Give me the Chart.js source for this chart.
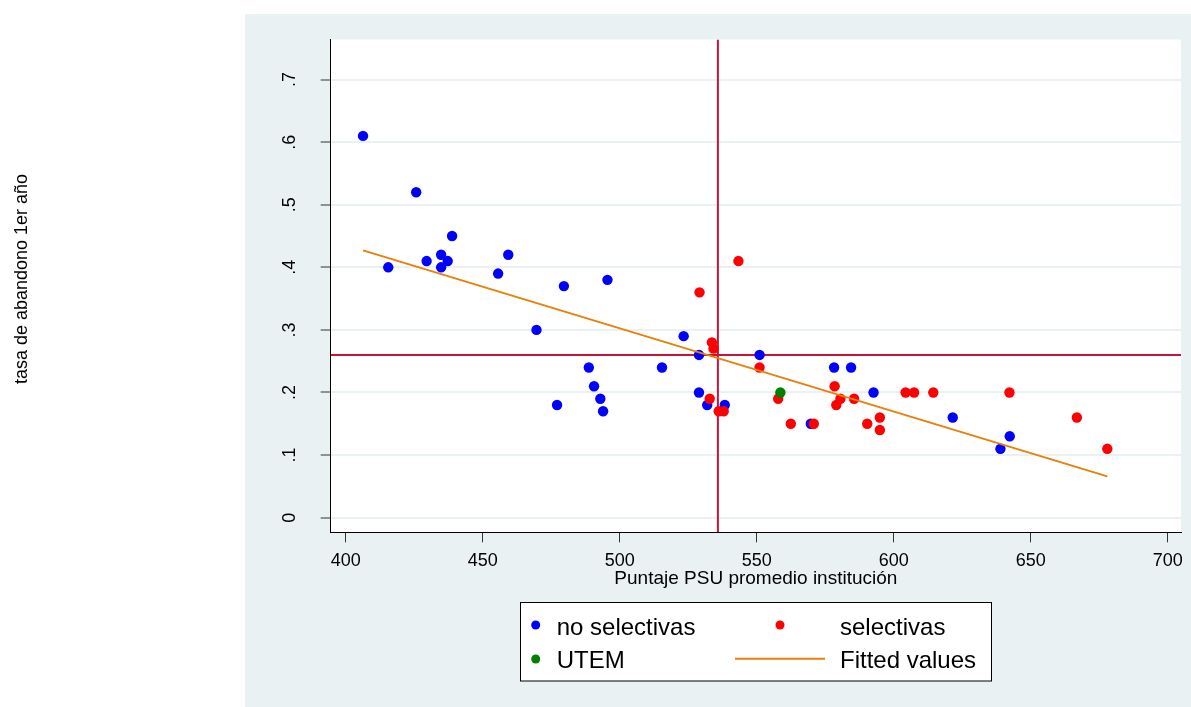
<!DOCTYPE html>
<html>
<head>
<meta charset="utf-8">
<script src="https://cdn.jsdelivr.net/npm/chart.js@4/dist/chart.umd.min.js"></script>
<style>
  body { margin: 0; background: #fff; }
  .wrap { width: 1191px; height: 707px; position: relative; }
</style>
</head>
<body>
<div class="wrap"><canvas id="myChart"></canvas></div>
<script>
"use strict";

// Data

const noSelX = [406.3, 425.7, 415.5, 429.5, 434.8, 437.2, 434.8, 438.8, 455.6, 459.3, 479.6, 495.5, 469.6, 488.7, 490.6, 492.9, 493.9, 477.1, 515.4, 523.3, 528.9, 528.9, 531.9, 538.3, 551.0, 569.7, 578.2, 584.4, 592.6, 621.5, 638.9, 642.3];
const noSelY = [0.61, 0.52, 0.40, 0.41, 0.42, 0.41, 0.40, 0.45, 0.39, 0.42, 0.37, 0.38, 0.30, 0.24, 0.21, 0.19, 0.17, 0.18, 0.24, 0.29, 0.26, 0.20, 0.18, 0.18, 0.26, 0.15, 0.24, 0.24, 0.20, 0.16, 0.11, 0.13];

const selX = [529.1, 533.6, 534.2, 532.8, 536.1, 537.9, 543.3, 551.0, 557.8, 562.4, 570.8, 578.4, 579.0, 580.5, 585.5, 590.3, 594.9, 594.9, 604.3, 607.4, 614.4, 642.2, 666.8, 677.9];
const selY = [0.36, 0.28, 0.27, 0.19, 0.17, 0.17, 0.41, 0.24, 0.19, 0.15, 0.15, 0.21, 0.18, 0.19, 0.19, 0.15, 0.16, 0.14, 0.20, 0.20, 0.20, 0.20, 0.16, 0.11];

const utemX = [558.6];
const utemY = [0.20];

const fitX = [406.3, 677.9];
const fitY = [0.427, 0.066];

const refX = 535.8; // xline
const refY = 0.26; // yline

const xMin = 394.5, xMax = 704.8, xStep = 50;
const yMin = -0.0234, yMax = 0.764, yStep = 0.1;

const toPoints = (xs, ys) => xs.map((x, i) => ({ x: x, y: ys[i] }));

const FONT = "'Liberation Sans', Arial, sans-serif";
const BG = "#EAF1F3";

// background + white plot region
const bgPlugin = {
  id: "bg",
  beforeDraw(chart) {
    const { ctx, chartArea: a } = chart;
    ctx.save();
    ctx.fillStyle = "#fff";
    ctx.fillRect(0, 0, chart.width, chart.height);
    ctx.fillStyle = BG;
    ctx.fillRect(245, 14, chart.width - 245, chart.height - 14);
    ctx.fillStyle = "#fff";
    ctx.fillRect(a.left, a.top, a.right - a.left, a.bottom - a.top);
    ctx.restore();
  },
};

// y title + two column legend box
const extrasPlugin = {
  id: "extras",
  afterDraw(chart) {
    const ctx = chart.ctx;
    ctx.save();
    ctx.fillStyle = "#000";
    ctx.font = "18px " + FONT;
    ctx.translate(27, 279);
    ctx.rotate(-Math.PI / 2);
    ctx.textAlign = "center";
    ctx.textBaseline = "alphabetic";
    ctx.fillText("tasa de abandono 1er año", 0, 0);
    ctx.restore();

    ctx.save();
    ctx.fillStyle = "#fff";
    ctx.fillRect(520.5, 602.5, 471, 78.5);
    ctx.strokeStyle = "#000";
    ctx.lineWidth = 1;
    ctx.strokeRect(520.5, 602.5, 471, 78.5);

    const ds = chart.data.datasets;
    const items = [
      { d: ds[0], sx: 535.7, tx: 556.7, y: 625, base: 635 },
      { d: ds[1], sx: 780, tx: 840, y: 625, base: 635 },
      { d: ds[2], sx: 535.7, tx: 556.7, y: 659, base: 668 },
      { d: ds[3], sx: 780, tx: 840, y: 658.7, base: 668, line: true },
    ];
    ctx.font = "24px " + FONT;
    ctx.textBaseline = "alphabetic";
    ctx.textAlign = "left";
    items.forEach((it) => {
      if (it.line) {
        ctx.strokeStyle = it.d.borderColor;
        ctx.lineWidth = 2;
        ctx.beginPath();
        ctx.moveTo(735, it.y);
        ctx.lineTo(825, it.y);
        ctx.stroke();
      } else {
        ctx.fillStyle = it.d.backgroundColor;
        ctx.beginPath();
        ctx.arc(it.sx, it.y, 4.5, 0, Math.PI * 2);
        ctx.fill();
      }
      ctx.fillStyle = "#000";
      ctx.fillText(it.d.label, it.tx, it.base);
    });
    ctx.restore();
  },
};

const ctx = document.getElementById("myChart").getContext("2d");
const myChart = new Chart(ctx, {
  type: "scatter",
  data: {
    datasets: [
      {
        label: "no selectivas",
        data: toPoints(noSelX, noSelY),
        backgroundColor: "#0000FF",
        borderWidth: 0,
        pointRadius: 5.2,
        order: 3,
      },
      {
        label: "selectivas",
        data: toPoints(selX, selY),
        backgroundColor: "#FF0000",
        borderWidth: 0,
        pointRadius: 5.2,
        order: 2,
      },
      {
        label: "UTEM",
        data: toPoints(utemX, utemY),
        backgroundColor: "#008000",
        borderWidth: 0,
        pointRadius: 5.2,
        order: 1,
      },
      {
        label: "Fitted values",
        type: "line",
        data: toPoints(fitX, fitY),
        borderColor: "#E8800A",
        backgroundColor: "#E8800A",
        borderWidth: 2,
        pointRadius: 0,
        showLine: true,
        order: 0,
      },
      {
        label: "xline",
        type: "line",
        data: [{ x: refX, y: yMin }, { x: refX, y: yMax }],
        borderColor: "#C8143C",
        borderWidth: 2,
        pointRadius: 0,
        showLine: true,
        order: 5,
      },
      {
        label: "yline",
        type: "line",
        data: [{ x: xMin, y: refY }, { x: xMax, y: refY }],
        borderColor: "#C8143C",
        borderWidth: 2,
        pointRadius: 0,
        showLine: true,
        order: 5,
      },
    ],
  },
  options: {
    responsive: true,
    maintainAspectRatio: false,
    devicePixelRatio: 1,
    animation: false,
    layout: { padding: { left: 250, top: 39.5, right: 8.3, bottom: 117.2 } },
    plugins: {
      legend: { display: false },
      tooltip: { enabled: false },
    },
    scales: {
      x: {
        type: "linear",
        min: xMin,
        max: xMax,
        afterFit: (s) => { s.height = 57.5; },
        ticks: {
          stepSize: xStep,
          includeBounds: false,
          color: "#000",
          padding: 8,
          font: { family: FONT, size: 18 },
          maxRotation: 0,
        },
        grid: { drawOnChartArea: false, drawTicks: true, tickLength: 10, tickColor: "#333", tickWidth: 1 },
        border: { display: true, color: "#000", width: 1 },
        title: {
          display: true,
          text: "Puntaje PSU promedio institución",
          color: "#000",
          font: { family: FONT, size: 19 },
          padding: { top: 0, bottom: 0 },
        },
      },
      y: {
        type: "linear",
        min: yMin,
        max: yMax,
        afterFit: (s) => { s.width = 80.7; },
        ticks: {
          stepSize: yStep,
          includeBounds: false,
          color: "#000",
          padding: 23,
          crossAlign: "center",
          minRotation: 90,
          maxRotation: 90,
          font: { family: FONT, size: 18 },
          callback: (v) => {
            const r = Math.round(v * 10) / 10;
            return r === 0 ? "0" : r.toFixed(1).replace(/^0\./, ".");
          },
        },
        grid: { color: BG, lineWidth: 2, drawTicks: true, tickLength: 10, tickColor: "#333", tickWidth: 1 },
        border: { display: true, color: "#000", width: 1 },
      },
    },
  },
  plugins: [bgPlugin, extrasPlugin],
});
</script>
</body>
</html>
